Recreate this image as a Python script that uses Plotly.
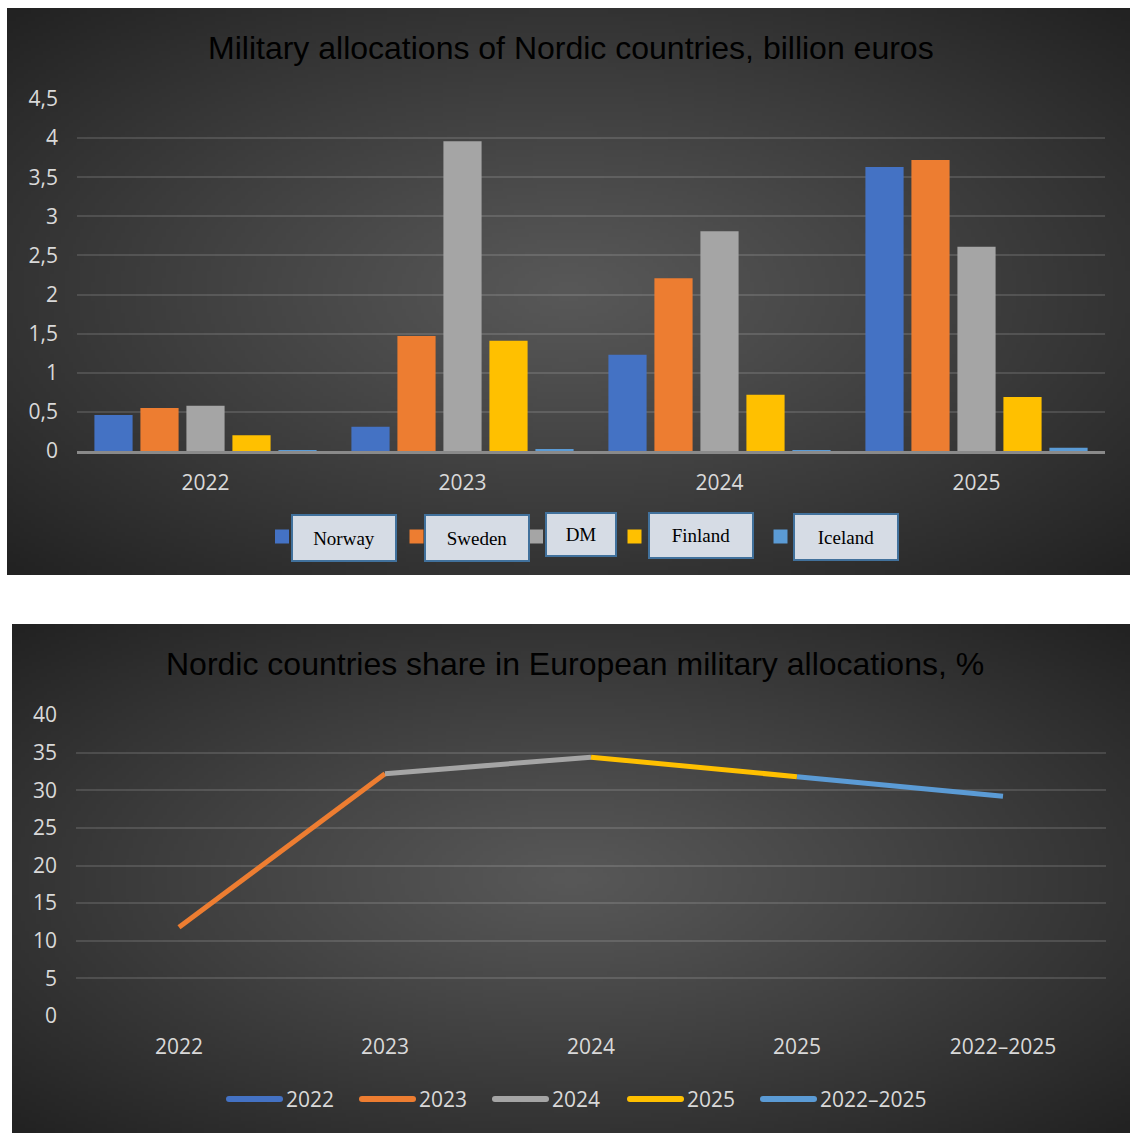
import base64, struct, zlib
import numpy as np
import plotly.graph_objects as go

# ---------------- data ----------------
years_top = ["2022", "2023", "2024", "2025"]
norway = [0.46, 0.31, 1.23, 3.63]
sweden = [0.55, 1.47, 2.21, 3.72]
dm = [0.58, 3.96, 2.81, 2.61]
finland = [0.20, 1.41, 0.72, 0.69]
iceland = [0.01, 0.02, 0.01, 0.04]
countries = ["Norway", "Sweden", "DM", "Finland", "Iceland"]
country_values = [norway, sweden, dm, finland, iceland]
country_colors = ["#4472C4", "#ED7D31", "#A5A5A5", "#FFC000", "#5B9BD5"]

share_cats = ["2022", "2023", "2024", "2025", "2022–2025"]
share_vals = [11.8, 32.2, 34.4, 31.8, 29.2]
share_colors = ["#4472C4", "#ED7D31", "#A5A5A5", "#FFC000", "#5B9BD5"]

title_top = "Military allocations of Nordic countries, billion euros"
title_bottom = "Nordic countries share in European military allocations, %"

W, H = 1130, 1133


def px(x):
    return x / W


def py(y):
    return 1 - y / H


def gradient_png(w, h, center=88, edge=34):
    yy, xx = np.mgrid[0:h, 0:w]
    nx = (xx / (w - 1) - 0.5) * 2
    ny = (yy / (h - 1) - 0.5) * 2
    r = np.sqrt(nx ** 2 + ny ** 2) / np.sqrt(2)
    c = center - (center - edge) * r ** 1.1
    c = np.clip(c, 0, 255).astype(np.uint8)
    img = np.stack([c, c, c], -1)
    raw = b"".join(b"\x00" + img[i].tobytes() for i in range(h))

    def chunk(tag, data):
        return struct.pack(">I", len(data)) + tag + data + struct.pack(">I", zlib.crc32(tag + data) & 0xFFFFFFFF)

    png = (b"\x89PNG\r\n\x1a\n" + chunk(b"IHDR", struct.pack(">IIBBBBB", w, h, 8, 2, 0, 0, 0))
           + chunk(b"IDAT", zlib.compress(raw, 9)) + chunk(b"IEND", b""))
    return "data:image/png;base64," + base64.b64encode(png).decode()


fig = go.Figure()

# ---------------- top: bars ----------------
for name, vals, col in zip(countries, country_values, country_colors):
    fig.add_trace(go.Bar(x=years_top, y=vals, name=name, marker=dict(color=col, line=dict(width=0)),
                         showlegend=False, xaxis="x", yaxis="y"))

# ---------------- bottom: line segments ----------------
fig.add_trace(go.Scatter(x=[share_cats[0]], y=[share_vals[0]], mode="lines", name=share_cats[0],
                         line=dict(color=share_colors[0], width=5), xaxis="x2", yaxis="y2"))
for i in range(1, len(share_cats)):
    fig.add_trace(go.Scatter(x=[share_cats[i - 1], share_cats[i]], y=[share_vals[i - 1], share_vals[i]],
                             mode="lines", name=share_cats[i],
                             line=dict(color=share_colors[i], width=5), xaxis="x2", yaxis="y2"))

tick_font = dict(family="Open Sans", size=21, color="#D9D9D9")
grid = "rgba(255,255,255,0.13)"

fig.update_layout(
    width=W, height=H,
    margin=dict(l=0, r=0, t=0, b=0, autoexpand=False),
    paper_bgcolor="white", plot_bgcolor="rgba(0,0,0,0)",
    separators=", ",
    showlegend=False,
    barmode="group", bargap=0.105, bargroupgap=0.17,
    xaxis=dict(domain=[px(77), px(1105)], anchor="y", type="category", tickfont=tick_font,
               showgrid=False, showline=True, linecolor="#8A8A8A", linewidth=3, ticks="",
               ticklabelstandoff=11, fixedrange=True),
    yaxis=dict(domain=[py(451), py(99)], anchor="x", range=[0, 4.5], dtick=0.5, tickfont=tick_font,
               showgrid=True, gridcolor=grid, gridwidth=1.5, zeroline=False, ticks="",
               ticklabelstandoff=18),
    xaxis2=dict(domain=[px(76), px(1106)], anchor="y2", type="category", tickfont=tick_font,
                range=[-0.5, 4.5], showgrid=False, showline=False, ticks="", ticklabelstandoff=16),
    yaxis2=dict(domain=[py(1016), py(715)], anchor="x2", range=[0, 40], dtick=5, tickfont=tick_font,
                showgrid=True, gridcolor=grid, gridwidth=1.5, zeroline=False, ticks="",
                ticklabelstandoff=18),
    images=[
        dict(source=gradient_png(300, 150), xref="paper", yref="paper", x=px(7), y=py(8),
             sizex=px(1130) - px(7), sizey=py(8) - py(575), sizing="stretch", layer="below",
             xanchor="left", yanchor="top"),
        dict(source=gradient_png(300, 140), xref="paper", yref="paper", x=px(12), y=py(624),
             sizex=px(1130) - px(12), sizey=py(624) - py(1133), sizing="stretch", layer="below",
             xanchor="left", yanchor="top"),
    ],
)

annotations = [
    dict(text=title_top, x=px(571), y=py(48), xref="paper", yref="paper", showarrow=False,
         xanchor="center", yanchor="middle",
         font=dict(family="Liberation Sans", size=32, color="#000000")),
    dict(text=title_bottom, x=px(575), y=py(664), xref="paper", yref="paper", showarrow=False,
         xanchor="center", yanchor="middle",
         font=dict(family="Liberation Sans", size=32, color="#000000")),
]
shapes = []

# custom legend for the bar chart
box_cx = [344, 476.5, 581, 700.5, 846]
box_cy = [538, 538, 534.5, 535.5, 537]
box_w = [102, 102, 68, 102, 102]
box_h = [44, 44, 41, 43, 44]
sq_cx = [282, 416.5, 536, 634.5, 780.5]
for name, col, cx, cy, bw, bh, sx in zip(countries, country_colors, box_cx, box_cy, box_w, box_h, sq_cx):
    annotations.append(dict(text=name, x=px(cx), y=py(cy), xref="paper", yref="paper", showarrow=False,
                            xanchor="center", yanchor="middle",
                            width=bw, height=bh, bgcolor="#D6DCE5", bordercolor="#41719C", borderwidth=2,
                            borderpad=0, valign="middle",
                            font=dict(family="Liberation Serif", size=19, color="#000000")))
    shapes.append(dict(type="rect", xref="paper", yref="paper", x0=px(sx - 7), x1=px(sx + 7),
                       y0=py(543.5), y1=py(529.5), fillcolor=col, line=dict(width=0)))

# custom legend for the line chart
leg_x0 = [226, 359, 492, 627, 760]
leg_y = 1099
for name, col, lx in zip(share_cats, share_colors, leg_x0):
    shapes.append(dict(type="line", xref="paper", yref="paper", x0=px(lx + 3), x1=px(lx + 54),
                       y0=py(leg_y), y1=py(leg_y), line=dict(color=col, width=6)))
    shapes.append(dict(type="circle", xref="paper", yref="paper", x0=px(lx), x1=px(lx + 6),
                       y0=py(leg_y + 3), y1=py(leg_y - 3), fillcolor=col, line=dict(width=0)))
    shapes.append(dict(type="circle", xref="paper", yref="paper", x0=px(lx + 51), x1=px(lx + 57),
                       y0=py(leg_y + 3), y1=py(leg_y - 3), fillcolor=col, line=dict(width=0)))
    annotations.append(dict(text=name, x=px(lx + 58), y=py(leg_y), xref="paper", yref="paper",
                            showarrow=False, xanchor="left", yanchor="middle",
                            font=dict(family="Open Sans", size=21, color="#D9D9D9")))

fig.update_layout(annotations=annotations, shapes=shapes)

fig.write_html("out.html")
